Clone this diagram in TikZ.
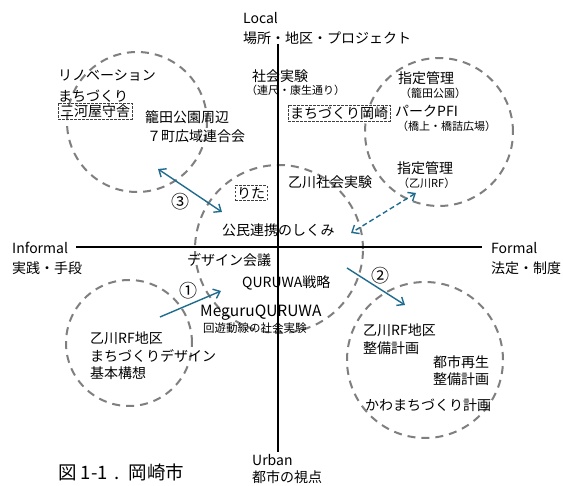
\documentclass[tikz,border=0pt]{standalone}
\usepackage{fontspec}
\setmainfont{Noto Sans CJK JP}
\usetikzlibrary{arrows.meta}
\definecolor{arrowblue}{HTML}{1F6C8F}
\definecolor{circgray}{HTML}{7F7F7F}
\begin{document}
\begin{tikzpicture}[x=1pt,y=-1pt,
  circ/.style={draw=circgray, line width=2pt, dash pattern=on 8pt off 6pt, circle, inner sep=0pt},
  lbl/.style={anchor=west, inner sep=0pt, font=\fontsize{14}{16}\selectfont},
  sm/.style={anchor=west, inner sep=0pt, font=\fontsize{11}{12}\selectfont},
  dbox/.style={draw=black!75, dash pattern=on 2.5pt off 1.5pt, line width=0.8pt, inner xsep=2pt, inner ysep=1.5pt, font=\fontsize{14}{16}\selectfont},
  axis/.style={draw=black, line width=1.2pt},
  arr/.style={draw=arrowblue, line width=1.4pt, -{Straight Barb[length=6pt,width=10pt]}},
  darr/.style={draw=arrowblue, line width=1.4pt, {Straight Barb[length=6pt,width=10pt]}-{Straight Barb[length=6pt,width=10pt]}},
  num/.style={inner sep=0pt, font=\fontsize{18}{20}\selectfont}]
\fill[white] (0,0) rectangle (563,486);
\useasboundingbox (0,0) rectangle (563,486);
% circles
\node[circ, minimum size=140pt] (c1) at (137,122) {};
\node[circ, minimum size=148pt] (c2) at (439,132) {};
\node[circ, minimum size=168pt] (c3) at (279,249) {};
\node[circ, minimum size=126pt] (c4) at (129,343) {};
\node[circ, minimum size=156pt] (c5) at (425,360) {};
% axes
\coordinate (ytop) at (278,44);
\coordinate (ybot) at (278,452);
\coordinate (xleft) at (76,247);
\coordinate (xright) at (482,247);
\draw[axis] (ytop) -- (ybot);
\draw[axis] (xleft) -- (xright);
% axis labels
\node[lbl] (local) at (243,18) {Local};
\node[lbl] (localjp) at (243,38) {場所・地区・プロジェクト};
\node[lbl] (informal) at (12,248) {Informal};
\node[lbl] (informaljp) at (12,268) {実践・手段};
\node[lbl] (formal) at (491,248) {Formal};
\node[lbl] (formaljp) at (491,268) {法定・制度};
\node[lbl] (urban) at (252,460) {Urban};
\node[lbl] (urbanjp) at (252,477) {都市の視点};
\node[anchor=west, inner sep=0pt, font=\fontsize{18.5}{20}\selectfont] (caption) at (58,472) {図 1-1\hspace{7pt}.\hspace{9pt}岡崎市};
% top-left
\node[lbl] (reno) at (58,76) {リノベーション};
\node[lbl] (machi1) at (58,96) {まちづくり};
\node[dbox] (mikawa) at (95,111) {三河屋守舎};
\node[lbl] (kagoda) at (145,117) {籠田公園周辺};
\node[lbl] (nana) at (147,136) {７町広域連合会};
% top-center
\node[lbl] (shakai) at (252,76) {社会実験};
\node[sm] (renjaku) at (246,90) {（連尺・康生通り）};
\node[dbox] (okazaki) at (339,113) {まちづくり岡崎};
% top-right
\node[lbl] (shitei1) at (398,78) {指定管理};
\node[sm] (kagodakoen) at (400,93) {（籠田公園）};
\node[lbl] (pfi) at (395,111) {パークPFI};
\node[sm] (hashi) at (397,126) {（橋上・橋詰広場）};
\node[lbl] (shitei2) at (397,168) {指定管理};
\node[sm] (otorf) at (398,183) {（乙川RF）};
% center
\node[dbox] (rita) at (251,193) {りた};
\node[lbl] (otoshakai) at (288,182) {乙川社会実験};
\node[lbl] (komin) at (222,230) {公民連携のしくみ};
\node[lbl] (design) at (187,260) {デザイン会議};
\node[lbl] (quruwa) at (242,283) {QURUWA戦略};
\node[anchor=west, inner sep=0pt, font=\fontsize{15.5}{17}\selectfont] (meguru) at (200,313) {MeguruQURUWA};
\node[anchor=west, inner sep=0pt, font=\fontsize{11.5}{13}\selectfont] (kaiyu) at (203,328) {回遊動線の社会実験};
% bottom-left
\node[lbl] (bl1) at (90,338) {乙川RF地区};
\node[lbl] (bl2) at (90,356) {まちづくりデザイン};
\node[lbl] (bl3) at (90,373) {基本構想};
% bottom-right
\node[lbl] (br1) at (363,330) {乙川RF地区};
\node[lbl] (br2) at (363,348) {整備計画};
\node[lbl] (br3) at (433,362) {都市再生};
\node[lbl] (br4) at (433,379) {整備計画};
\node[lbl] (br5) at (365,405) {かわまちづくり計画};
% arrows
\coordinate (a3s) at (158,169);
\coordinate (a3e) at (222,212);
\draw[darr] (a3s) -- (a3e);
\node[num] (n3) at (180,202) {③};
\coordinate (ads) at (416,193);
\coordinate (ade) at (351,233);
\draw[darr, dash pattern=on 5pt off 3pt] (ads) -- (ade);
\coordinate (a1s) at (160,317);
\coordinate (a1e) at (221,291);
\draw[arr] (a1s) -- (a1e);
\node[num] (n1) at (188,291) {①};
\coordinate (a2s) at (347,268);
\coordinate (a2e) at (405,305);
\draw[arr] (a2s) -- (a2e);
\node[num] (n2) at (380,276) {②};
\end{tikzpicture}
\end{document}
